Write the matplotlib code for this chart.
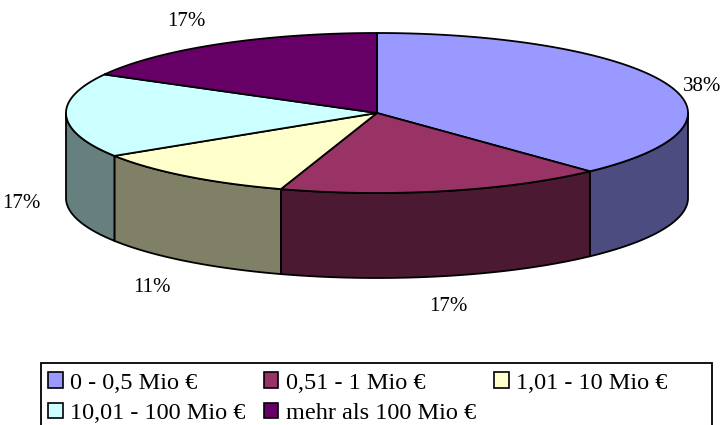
import numpy as np
import matplotlib
matplotlib.use("Agg")
import matplotlib.pyplot as plt
from matplotlib.patches import Polygon, Rectangle

# ---- data ----
categories = ["0 - 0,5 Mio €", "0,51 - 1 Mio €", "1,01 - 10 Mio €",
              "10,01 - 100 Mio €", "mehr als 100 Mio €"]
values = [38, 17, 11, 17, 17]
top_colors = ["#9999FF", "#993366", "#FFFFCC", "#CCFFFF", "#660066"]
side_colors = ["#4C4C80", "#4C1933", "#808066", "#668080", "#330033"]

# ---- geometry (pixel space) ----
W, H = 725, 425
CX, CY = 377, 113
A, B = 311, 80
DEPTH = 85
LW = 1.3

plt.rcParams['font.family'] = ['Liberation Serif', 'DejaVu Serif']

fig = plt.figure(figsize=(W / 100, H / 100), dpi=100)
ax = fig.add_axes([0, 0, 1, 1])
ax.set_xlim(0, W)
ax.set_ylim(H, 0)
ax.axis('off')


def pt(t_deg, dy=0.0):
    t = np.radians(t_deg)
    return CX + A * np.cos(t), CY - B * np.sin(t) + dy


total = float(sum(values))
cum = np.concatenate([[0], np.cumsum(values)])
bounds = 90 - 360 * cum / total  # decreasing angles (clockwise)

# side walls (front half only)
for i in range(len(values)):
    t1, t2 = bounds[i], bounds[i + 1]  # t1 > t2
    for k in (-1, 0, 1):
        lo = max(t2, -180 + 360 * k)
        hi = min(t1, 0 + 360 * k)
        if hi - lo <= 1e-6:
            continue
        ts = np.linspace(hi, lo, 100)
        xs, ys = pt(ts)
        xb, yb = pt(ts[::-1], DEPTH)
        poly = np.column_stack([np.concatenate([xs, xb]),
                                np.concatenate([ys, yb])])
        ax.add_patch(Polygon(poly, closed=True, facecolor=side_colors[i],
                             edgecolor='black', lw=LW, joinstyle='round'))

# top faces
for i in range(len(values)):
    t1, t2 = bounds[i], bounds[i + 1]
    ts = np.linspace(t1, t2, 200)
    xs, ys = pt(ts)
    poly = np.column_stack([np.concatenate([[CX], xs]),
                            np.concatenate([[CY], ys])])
    ax.add_patch(Polygon(poly, closed=True, facecolor=top_colors[i],
                         edgecolor='black', lw=LW, joinstyle='round'))

# percentage labels
for i, v in enumerate(values):
    m = (bounds[i] + bounds[i + 1]) / 2
    c, s = np.cos(np.radians(m)), np.sin(np.radians(m))
    x, y = pt(m)
    if s < 0:
        y += DEPTH
    ha = 'left' if c > 0.3 else ('right' if c < -0.3 else 'center')
    va = 'bottom' if s > 0.5 else ('top' if s < -0.5 else 'center_baseline')
    gx = 18 if c > 0 else 26
    gy = 0 if va == 'center_baseline' else (15 if s > 0 else 21)
    x += gx * c
    y -= gy * s
    ax.text(x, y, f"{v / total * 100:.0f}%", ha=ha, va=va, fontsize=15,
            color='black')

# legend (row-wise order like the original: 3 columns)
ncol = 3
nrow = int(np.ceil(len(categories) / ncol))
order = [r * ncol + c for c in range(ncol) for r in range(nrow)
         if r * ncol + c < len(categories)]
handles = [Rectangle((0, 0), 1, 1, facecolor=top_colors[j], edgecolor='black',
                     lw=1.2) for j in order]
labels = [categories[j] for j in order]
leg = fig.legend(handles, labels, ncol=ncol, loc='upper left',
                 bbox_to_anchor=(41 / W, 1 - 365 / H), fontsize=17.5,
                 frameon=False,
                 handlelength=0.6, handleheight=0.6, handletextpad=0.3,
                 columnspacing=0.75, labelspacing=0.38, borderpad=0.3,
                 borderaxespad=0)

# legend frame (extends past the bottom edge, as in the original)
LEG_X0, LEG_X1, LEG_Y0 = 41, 712, 363
fig.patches.append(Rectangle((LEG_X0 / W, -0.1), (LEG_X1 - LEG_X0) / W,
                             1 - LEG_Y0 / H + 0.1, transform=fig.transFigure,
                             facecolor='none', edgecolor='black', lw=1.3))

fig.savefig("out.png", dpi=100)
